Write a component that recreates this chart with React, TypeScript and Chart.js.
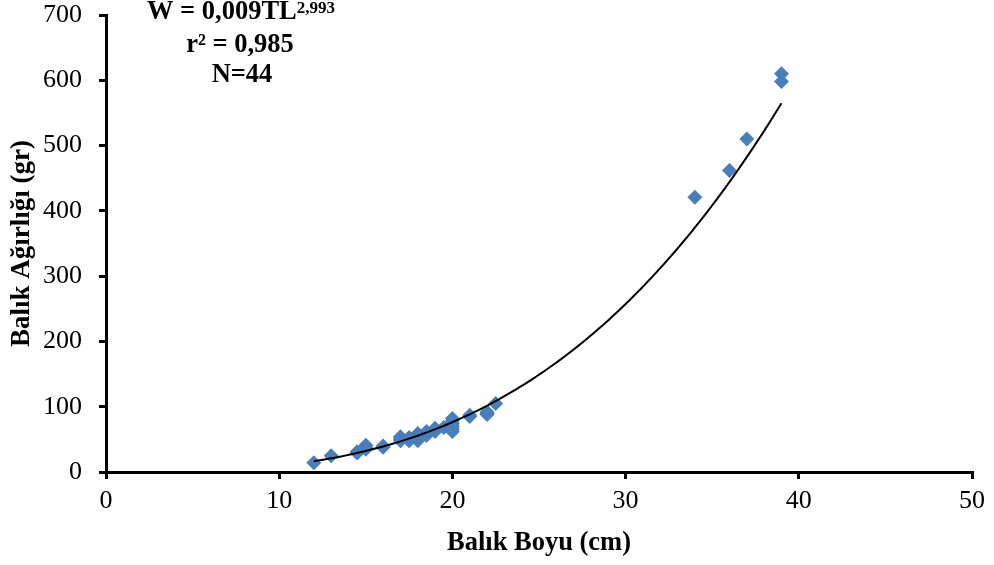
import React, { useEffect, useRef } from "react";
import { Chart, registerables } from "chart.js";

Chart.register(...registerables);

// Fish length (cm) and weight (g) samples
const lengthsCm: number[] = [
  12, 13, 14.5, 14.5, 15, 15, 15, 16, 16, 17, 17, 17, 17,
  17.5, 17.5, 17.5, 18, 18, 18, 18, 18.5, 18.5, 18.5,
  19, 19, 19, 19.5, 20, 20, 20, 20, 20, 20, 21, 21,
  22, 22, 22, 22.5, 34, 36, 37, 39, 39,
];
const weightsGr: number[] = [
  14, 25, 29, 31, 35, 41, 38, 40, 38, 50, 54, 52, 48,
  50, 53, 48, 59, 48, 55, 52, 59, 56, 62,
  67, 64, 62, 68, 62, 66, 70, 74, 78, 82, 87, 85,
  90, 88, 92, 105, 421, 462, 510, 598, 610,
];

const xTicks: number[] = [0, 10, 20, 30, 40, 50];
const yTicks: number[] = [0, 100, 200, 300, 400, 500, 600, 700];

const xTitle = "Balık Boyu (cm)";
const yTitle = "Balık Ağırlığı (gr)";
const eqMain = "W = 0,009TL";
const eqExp = "2,993";
const r2Text = "r² = 0,985";
const nText = "N=44";

const SERIF = "'Liberation Serif', 'Times New Roman', serif";
const POINT_BLUE = "#4A7EBB";

// Least-squares power fit W = a * L^b in log space
function powerFit(xs: number[], ys: number[]) {
  const n = xs.length;
  let sx = 0, sy = 0, sxx = 0, sxy = 0;
  for (let i = 0; i < n; i++) {
    const lx = Math.log(xs[i]);
    const ly = Math.log(ys[i]);
    sx += lx; sy += ly; sxx += lx * lx; sxy += lx * ly;
  }
  const b = (n * sxy - sx * sy) / (n * sxx - sx * sx);
  const a = Math.exp((sy - b * sx) / n);
  return { a, b };
}

const equationPlugin = {
  id: "equationText",
  afterDraw(chart: Chart) {
    const ctx = chart.ctx;
    ctx.save();
    ctx.fillStyle = "#000";
    ctx.textBaseline = "alphabetic";
    ctx.textAlign = "left";

    const mainFont = `bold 26.5px ${SERIF}`;
    const supFont = `bold 17px ${SERIF}`;
    ctx.font = mainFont;
    const wMain = ctx.measureText(eqMain).width;
    ctx.font = supFont;
    const wSup = ctx.measureText(eqExp).width;
    const x1 = 241 - (wMain + wSup) / 2;
    ctx.font = mainFont;
    ctx.fillText(eqMain, x1, 18.5);
    ctx.font = supFont;
    ctx.fillText(eqExp, x1 + wMain, 12.5);

    ctx.font = mainFont;
    ctx.textAlign = "center";
    ctx.fillText(r2Text, 240, 52);
    ctx.fillText(nText, 242, 82);
    ctx.restore();
  },
};

export default function App() {
  const canvasRef = useRef<HTMLCanvasElement | null>(null);

  useEffect(() => {
    document.body.style.margin = "0";
    const canvas = canvasRef.current;
    if (!canvas) return;

    const points = lengthsCm.map((x, i) => ({ x, y: weightsGr[i] }));
    const { a, b } = powerFit(lengthsCm, weightsGr);
    const minL = Math.min(...lengthsCm);
    const maxL = Math.max(...lengthsCm);
    const curve: { x: number; y: number }[] = [];
    const steps = 120;
    for (let i = 0; i <= steps; i++) {
      const x = minL + ((maxL - minL) * i) / steps;
      curve.push({ x, y: a * Math.pow(x, b) });
    }

    const chart = new Chart(canvas, {
      type: "scatter",
      data: {
        datasets: [
          {
            label: "trend",
            data: curve,
            showLine: true,
            borderColor: "#000",
            borderWidth: 2,
            pointRadius: 0,
            tension: 0,
            order: 0,
          },
          {
            label: "samples",
            data: points,
            pointStyle: "rectRot",
            pointRadius: 7.5,
            backgroundColor: POINT_BLUE,
            borderColor: POINT_BLUE,
            borderWidth: 0,
            order: 1,
          },
        ],
      },
      options: {
        responsive: false,
        animation: false,
        layout: { padding: { top: 15, right: 22, left: 0, bottom: 0 } },
        plugins: {
          legend: { display: false },
          tooltip: { enabled: false },
        },
        scales: {
          x: {
            type: "linear",
            min: 0,
            max: 50,
            afterBuildTicks: (s: any) => {
              s.ticks = xTicks.map((v) => ({ value: v }));
            },
            afterFit: (s: any) => {
              s.height = 93;
              s.paddingLeft = 0;
              s.paddingRight = 0;
            },
            ticks: {
              color: "#000",
              font: { family: SERIF, size: 26 },
              padding: 7,
              maxRotation: 0,
            },
            grid: {
              drawOnChartArea: false,
              drawTicks: true,
              tickLength: 7,
              color: "#000",
              lineWidth: 3,
            },
            border: { color: "#000", width: 3 },
            title: {
              display: true,
              text: xTitle,
              color: "#000",
              font: { family: SERIF, size: 26.5, weight: "bold" },
              padding: { top: 6, bottom: 6 },
            },
          },
          y: {
            type: "linear",
            min: 0,
            max: 700,
            afterBuildTicks: (s: any) => {
              s.ticks = yTicks.map((v) => ({ value: v }));
            },
            afterFit: (s: any) => {
              s.width = 106;
              s.paddingTop = 0;
              s.paddingBottom = 0;
            },
            ticks: {
              color: "#000",
              font: { family: SERIF, size: 26 },
              padding: 17,
            },
            grid: {
              drawOnChartArea: false,
              drawTicks: true,
              tickLength: 7,
              color: "#000",
              lineWidth: 3,
            },
            border: { color: "#000", width: 3 },
            title: {
              display: true,
              text: yTitle,
              color: "#000",
              font: { family: SERIF, size: 27, weight: "bold" },
              padding: { top: 6, bottom: 6 },
            },
          },
        },
      },
      plugins: [equationPlugin],
    });

    return () => chart.destroy();
  }, []);

  return (
    <div style={{ width: 994, height: 565, background: "#fff" }}>
      <canvas ref={canvasRef} width={994} height={565} />
    </div>
  );
}
